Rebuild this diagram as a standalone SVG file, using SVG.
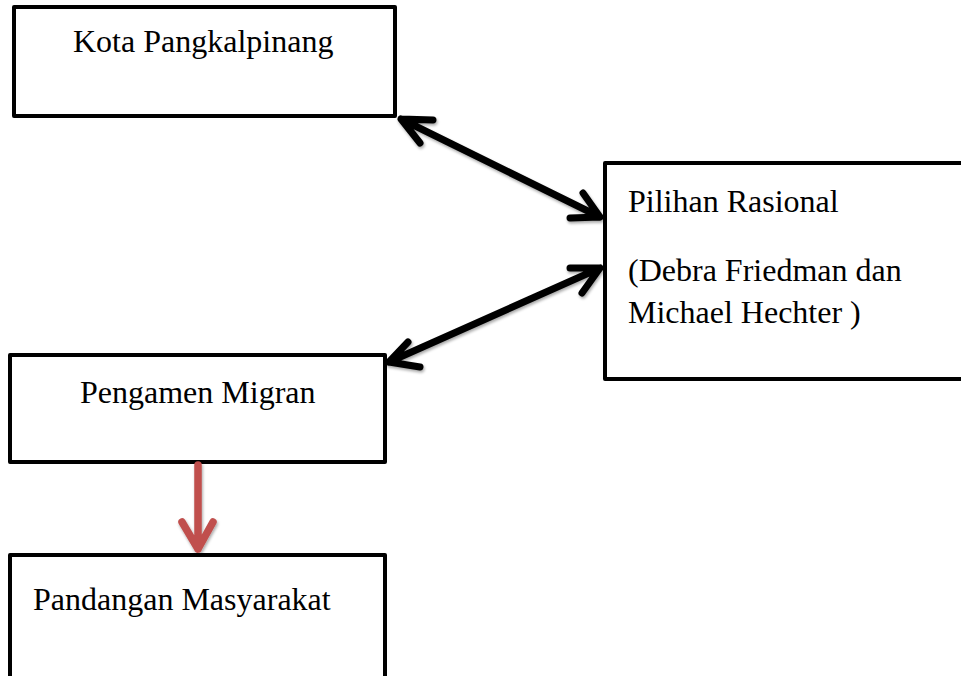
<svg xmlns="http://www.w3.org/2000/svg" width="961" height="676" viewBox="0 0 961 676">
<style>
.box{fill:#fff;stroke:#000;stroke-width:4;stroke-linejoin:round}
.t{font-family:"Liberation Serif","Times New Roman",serif;font-size:32px;fill:#000}
.c{fill:none;stroke:#000;stroke-width:7;stroke-linecap:round;stroke-linejoin:round}
.r{fill:none;stroke:#C0504D;stroke-width:7.5;stroke-linecap:round;stroke-linejoin:round}
</style>
<defs>
<filter id="sh" x="-10%" y="-10%" width="130%" height="130%">
<feGaussianBlur in="SourceAlpha" stdDeviation="1.5"/>
<feOffset dx="1" dy="2" result="b"/>
<feComponentTransfer><feFuncA type="linear" slope="0.35"/></feComponentTransfer>
<feMerge><feMergeNode/><feMergeNode in="SourceGraphic"/></feMerge>
</filter>
</defs>
<rect width="961" height="676" fill="#fff"/>
<g id="kota"><rect class="box" x="14" y="7" width="381" height="109"/><text class="t" x="73" y="52">Kota Pangkalpinang</text></g>
<g id="pilihan"><rect class="box" x="605" y="163" width="370" height="216"/><text class="t" x="628" y="212">Pilihan Rasional</text><text class="t" x="628" y="281">(Debra Friedman dan</text><text class="t" x="628" y="323">Michael Hechter )</text></g>
<g id="pengamen"><rect class="box" x="10" y="355" width="375" height="107"/><text class="t" x="80" y="403">Pengamen Migran</text></g>
<g id="pandangan"><rect class="box" x="10" y="555" width="375" height="140"/><text class="t" x="33" y="610">Pandangan Masyarakat</text></g>
<g id="connectors" filter="url(#sh)">
<path class="c" d="M401,119 L600,217 M433,120 L401,119 L420,143 M570,218 L600,217 L583,193"/>
<path class="c" d="M600,268 L389,362 M570,268 L600,268 L582,293 M408,342 L389,362 L420,367"/>
<path class="r" d="M198,465 L198,549 M182,522 L198,549 L213,522"/>
</g>
</svg>
